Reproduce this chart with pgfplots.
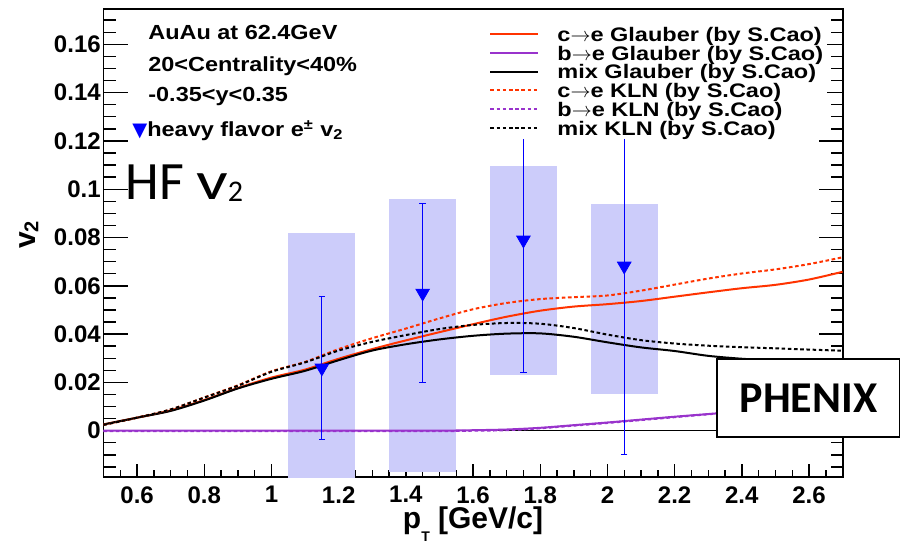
\documentclass[border=0pt]{standalone}
\usepackage{fontspec}
\setmainfont{Liberation Sans}
\newfontfamily\rootfont{Liberation Sans}[FakeStretch=1.15]
\newfontfamily\legfont{Liberation Sans}[FakeStretch=1.2]
\newfontfamily\carlito{Carlito}
\newfontfamily\dejavu{DejaVu Sans}
\usepackage{graphicx}
\usepackage{pgfplots}
\pgfplotsset{compat=1.18}
\definecolor{rootred}{RGB}{255,51,0}
\definecolor{rootpurple}{RGB}{153,51,204}
\definecolor{sysfill}{RGB}{204,204,250}
\begin{document}
\begin{tikzpicture}
\useasboundingbox (-51.75pt,-33pt) rectangle (398.25pt,238.5pt);
\begin{axis}[
  scale only axis, width=369.55pt, height=234pt,
  xmin=0.5, xmax=2.7, ymin=-0.01917, ymax=0.17462,
  axis line style={line width=0.9pt},
  xtick={0.6,0.8,1,1.2,1.4,1.6,1.8,2,2.2,2.4,2.6},
  minor xtick={0.5,0.55,...,2.7},
  ytick={0,0.02,0.04,0.06,0.08,0.1,0.12,0.14,0.16},
  minor ytick={-0.015,-0.01,...,0.17},
  xtick pos=left, ytick pos=both, tick align=inside,
  scaled x ticks=false, scaled y ticks=false,
  xtick style={/pgfplots/major tick length=6.5pt,/pgfplots/minor tick length=3.5pt,line width=0.7pt,black},
  ytick style={/pgfplots/major tick length=12pt,/pgfplots/minor tick length=6pt,line width=0.7pt,black},
  /pgf/number format/assume math mode=true,
  xticklabel style={font=\bfseries\fontsize{12}{12}\selectfont,/pgf/number format/fixed,/pgf/number format/precision=1,inner ysep=0pt,yshift=-4.5pt},
  yticklabel style={font=\bfseries\fontsize{12}{12}\selectfont,/pgf/number format/fixed,/pgf/number format/precision=2,inner xsep=1.2pt},
  xlabel={p\raisebox{-6.5pt}{\fontsize{7}{7}\selectfont T}\ [GeV/c]},
  xlabel style={at={(axis description cs:0.5,-0.1100)},anchor=base,inner sep=0pt,font=\bfseries\fontsize{15}{15}\selectfont},
  ylabel={v\raisebox{-1.5pt}{\fontsize{10}{10}\selectfont 2}},
  ylabel style={at={(axis description cs:-0.1008,0.517)},anchor=center,font=\bfseries\fontsize{15}{15}\selectfont},
  legend image code/.code={\draw[#1] (0pt,0pt) -- (24pt,0pt);},
  legend cell align=left,
  legend style={at={(0.5162,0.9703)},anchor=north west,draw=none,fill=white,inner xsep=2pt,inner ysep=0.5pt,
    row sep=0pt,column sep=9pt,font=\legfont\bfseries\fontsize{9.8}{9.8}\selectfont,
    nodes={inner sep=0pt,text height=8.4pt,text depth=1.05pt}},
]
% systematic boxes
\addplot[fill=sysfill,draw=none,forget plot] coordinates {(1.05,-0.03) (1.05,0.0818) (1.25,0.0818) (1.25,-0.03)} -- cycle;
\addplot[fill=sysfill,draw=none,forget plot] coordinates {(1.35,-0.0172) (1.35,0.0959) (1.55,0.0959) (1.55,-0.0172)} -- cycle;
\addplot[fill=sysfill,draw=none,forget plot] coordinates {(1.65,0.0229) (1.65,0.1096) (1.85,0.1096) (1.85,0.0229)} -- cycle;
\addplot[fill=sysfill,draw=none,forget plot] coordinates {(1.95,0.0153) (1.95,0.0939) (2.15,0.0939) (2.15,0.0153)} -- cycle;
% zero line
\addplot[black,line width=0.4pt,forget plot] coordinates {(0.5,0) (2.7,0)};
% curves
\addplot[rootred,line width=1pt,smooth] coordinates {(0.5,0.0026)(0.6,0.0054)(0.7,0.0084)(0.8,0.0127)(0.9,0.0177)(1.0,0.0220)(1.1,0.0253)(1.2,0.0298)(1.3,0.0338)(1.4,0.0374)(1.5,0.0408)(1.6,0.0441)(1.7,0.0472)(1.8,0.0497)(1.9,0.0514)(2.0,0.0524)(2.1,0.0537)(2.2,0.0555)(2.3,0.0573)(2.4,0.0590)(2.5,0.0604)(2.6,0.0626)(2.7,0.0658)};
\addlegendentry{c$\rightarrow$e Glauber (by S.Cao)}
\addplot[rootpurple,line width=1pt,smooth] coordinates {(0.5,0)(1.0,0)(1.5,0)(1.55,0.0001)(1.6,0.0002)(1.7,0.0005)(1.8,0.0012)(1.9,0.0023)(2.0,0.0034)(2.1,0.0046)(2.2,0.0058)(2.3,0.0069)(2.4,0.0080)(2.5,0.0090)(2.6,0.0100)(2.7,0.0110)};
\addlegendentry{b$\rightarrow$e Glauber (by S.Cao)}
\addplot[black,line width=1pt,smooth] coordinates {(0.5,0.0026)(0.6,0.0054)(0.7,0.0082)(0.8,0.0125)(0.9,0.0175)(1.0,0.0215)(1.1,0.0248)(1.2,0.0292)(1.3,0.0332)(1.4,0.0358)(1.5,0.0378)(1.6,0.0393)(1.7,0.0402)(1.8,0.0403)(1.9,0.0389)(2.0,0.0366)(2.1,0.0345)(2.2,0.0330)(2.3,0.0310)(2.4,0.0298)(2.5,0.0290)(2.6,0.0285)(2.7,0.0282)};
\addlegendentry{mix Glauber (by S.Cao)}
\addplot[rootred,line width=1pt,smooth,dash pattern=on 1.8pt off 1.3pt] coordinates {(0.5,0.0024)(0.6,0.0054)(0.7,0.0088)(0.8,0.0138)(0.9,0.0188)(1.0,0.0246)(1.1,0.0285)(1.2,0.0338)(1.3,0.0383)(1.4,0.0423)(1.5,0.0465)(1.6,0.0503)(1.7,0.0529)(1.8,0.0545)(1.9,0.0553)(2.0,0.0560)(2.1,0.0580)(2.2,0.0605)(2.3,0.0630)(2.4,0.0651)(2.5,0.0668)(2.6,0.0690)(2.7,0.0718)};
\addlegendentry{c$\rightarrow$e KLN (by S.Cao)}
\addplot[rootpurple,line width=1pt,smooth,dash pattern=on 1.8pt off 1.3pt] coordinates {(0.5,-0.0002)(1.0,-0.0002)(1.5,-0.0002)(1.55,-0.0001)(1.6,0)(1.7,0.0002)(1.8,0.0010)(1.9,0.0021)(2.0,0.0032)(2.1,0.0044)(2.2,0.0056)(2.3,0.0068)(2.4,0.0079)(2.5,0.0089)(2.6,0.0099)(2.7,0.0109)};
\addlegendentry{b$\rightarrow$e KLN (by S.Cao)}
\addplot[black,line width=1pt,smooth,dash pattern=on 1.8pt off 1.3pt] coordinates {(0.5,0.0024)(0.6,0.0054)(0.7,0.0088)(0.8,0.0137)(0.9,0.0186)(1.0,0.0244)(1.1,0.0283)(1.2,0.0332)(1.3,0.0368)(1.4,0.0396)(1.5,0.0421)(1.6,0.0438)(1.7,0.0446)(1.8,0.0443)(1.9,0.0425)(2.0,0.0398)(2.1,0.0375)(2.2,0.0361)(2.3,0.0352)(2.4,0.0346)(2.5,0.0341)(2.6,0.0336)(2.7,0.0331)};
\addlegendentry{mix KLN (by S.Cao)}
% data
\addplot[blue,only marks,mark=triangle*,mark size=3.9pt,mark options={rotate=180,fill=blue},forget plot,
  error bars/.cd,y dir=both,y explicit,error bar style={line width=0.6pt,blue},
  error mark options={rotate=90,line width=0.6pt,mark size=1.6pt,blue}]
  coordinates {(1.15,0.0260) +- (0,0.0295) (1.45,0.0570) +- (0,0.0370) (1.75,0.0790) +- (0,0.0550) (2.05,0.0682) +- (0,0.0780)};
% texts
\node[anchor=base west,inner xsep=0pt,font=\rootfont\bfseries\fontsize{10.2}{10.2}\selectfont] at (axis description cs:0.0602,0.9353) {AuAu at 62.4GeV};
\node[anchor=base west,inner xsep=0pt,font=\rootfont\bfseries\fontsize{10.2}{10.2}\selectfont] at (axis description cs:0.0602,0.8675) {20<Centrality<40\%};
\node[anchor=base west,inner xsep=0pt,font=\rootfont\bfseries\fontsize{10.2}{10.2}\selectfont] at (axis description cs:0.0602,0.8019) {-0.35<y<0.35};
\node[anchor=base west,inner xsep=0pt,font=\rootfont\bfseries\fontsize{10.2}{10.2}\selectfont] at (axis description cs:0.0386,0.7271) {{\dejavu\color{blue}\fontsize{9.7}{9.7}\selectfont ▼}heavy flavor e\textsuperscript{±} v\textsubscript{2}};
\node[anchor=base west,inner xsep=0pt,font=\carlito\fontsize{27}{27}\selectfont] at (axis description cs:0.0291,0.5919) {HF \scalebox{1.3}[1]{v}\raisebox{-1pt}{\fontsize{15}{15}\selectfont 2}};
\coordinate (phx) at (axis description cs:0.9539,0.1688);
\end{axis}
\node[draw=black,line width=1pt,fill=white,minimum width=91.5pt,minimum height=39pt,inner sep=0pt,font=\carlito\bfseries\fontsize{22}{22}\selectfont] at (phx) {PHENIX};
\end{tikzpicture}
\end{document}
